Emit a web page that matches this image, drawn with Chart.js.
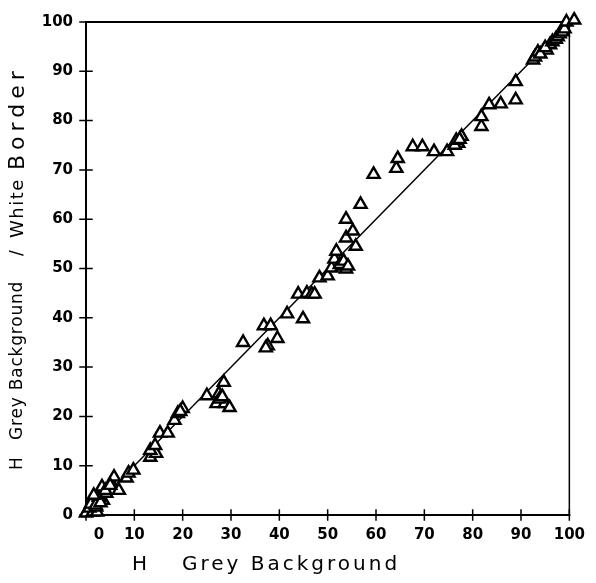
<!DOCTYPE html>
<html>
<head>
<meta charset="utf-8">
<script src="https://cdn.jsdelivr.net/npm/chart.js@4/dist/chart.umd.min.js"></script>
<style>
  html, body { margin: 0; padding: 0; background: #fff; }
  canvas { display: block; }
</style>
</head>
<body>
<canvas id="chart" width="596" height="583"></canvas>
<script>
// H measured on the grey background (x) against the grey background with a white border (y)
const hGrey = [
  0.0, 1.4, 2.3, 0.7, 2.1, 1.4, 1.0, 3.5, 2.7, 4.2, 3.3, 5.2, 6.8, 5.8, 8.4, 8.8, 9.8,
  2.0, 3.0, 1.6, 4.0, 5.0,
  13.3, 14.5, 13.3, 14.3, 15.3, 16.9, 18.3, 19.0, 20.0, 19.5,
  25.0, 27.5, 27.0, 28.7, 29.7, 28.5, 27.6, 28.2,
  32.5, 36.8, 38.2, 39.6, 37.6, 37.2, 41.6, 44.9, 43.9, 45.7, 46.7, 47.3,
  48.3, 50.0, 50.8, 53.0, 53.8, 51.4, 51.8, 55.8, 53.8, 55.2, 53.8, 56.8, 59.5,
  52.5, 53.3, 54.2,
  64.2, 64.5, 67.6, 69.6, 72.0, 74.7, 77.0, 77.7, 76.3, 76.6, 77.3,
  81.8, 81.8, 83.4, 85.8, 88.9, 88.9, 92.5, 92.9, 93.5, 95.3, 96.0,
  94.0, 95.0, 96.5, 97.2,
  97.6, 98.0, 98.6, 99.0, 99.4, 101.0
];
const hGreyWhiteBorder = [
  0.4, 0.6, 0.6, 1.4, 1.6, 3.0, 2.2, 3.0, 3.6, 4.4, 5.7, 6.5, 5.0, 7.7, 7.5, 8.5, 9.1,
  2.0, 2.5, 4.0, 5.0, 6.0,
  11.7, 12.5, 13.1, 14.1, 16.6, 16.6, 19.2, 20.6, 21.6, 21.0,
  24.2, 24.6, 22.6, 22.6, 21.8, 26.9, 23.5, 24.0,
  35.0, 38.4, 38.4, 35.8, 34.3, 33.9, 40.8, 39.8, 44.8, 45.0, 44.8, 44.8,
  48.1, 48.5, 50.1, 50.5, 49.9, 51.9, 53.5, 54.5, 56.2, 57.6, 60.0, 63.0, 69.1,
  50.8, 51.5, 50.5,
  70.3, 72.3, 74.7, 74.7, 73.7, 73.7, 75.4, 76.8, 75.0, 76.0, 76.2,
  78.8, 80.8, 83.2, 83.4, 84.2, 87.9, 92.3, 92.9, 93.9, 94.3, 95.4,
  93.5, 94.8, 96.0, 96.5,
  97.0, 97.6, 98.0, 98.6, 100.0, 100.4
];
// equal-value reference line
const identityX = [0, 100];
const identityY = [0, 100];
// axis ticks and their labels
const tickValues = [0, 10, 20, 30, 40, 50, 60, 70, 80, 90, 100];
const xTickLabels = ['     0', '10', '20', '30', '40', '50', '60', '70', '80', '90', '100'];
const yTickLabels = ['0', '10', '20', '30', '40', '50', '60', '70', '80', '90', '100'];

const points = hGrey.map((x, i) => ({ x, y: hGreyWhiteBorder[i] }));
const line = identityX.map((x, i) => ({ x, y: identityY[i] }));

const tickFont = { family: 'DejaVu Sans', size: 15, weight: 'bold' };

// frame and cross-shaped tick marks
const framePlugin = {
  id: 'frame',
  beforeDatasetsDraw(chart) {
    const { ctx, chartArea: a, scales: { x, y } } = chart;
    ctx.save();
    ctx.strokeStyle = '#000';
    ctx.lineCap = 'square';
    ctx.lineWidth = 2;
    ctx.beginPath();
    ctx.moveTo(a.left, a.top); ctx.lineTo(a.left, a.bottom);
    ctx.lineTo(a.right, a.bottom);
    ctx.moveTo(a.left, a.top); ctx.lineTo(a.right, a.top);
    ctx.stroke();
    ctx.lineWidth = 1.5;
    ctx.beginPath();
    ctx.moveTo(a.right, a.top); ctx.lineTo(a.right, a.bottom);
    ctx.stroke();
    ctx.lineWidth = 1.5;
    ctx.beginPath();
    tickValues.forEach(v => {
      const px = x.getPixelForValue(v);
      ctx.moveTo(px, a.bottom - 5); ctx.lineTo(px, a.bottom + 5);
      const py = y.getPixelForValue(v);
      ctx.moveTo(a.left - 6, py); ctx.lineTo(a.left + 6, py);
    });
    ctx.stroke();
    ctx.restore();
  }
};

// axis titles, set piece by piece
const titlePlugin = {
  id: 'axisTitles',
  afterDraw(chart) {
    const ctx = chart.ctx;
    ctx.save();
    ctx.fillStyle = '#000';
    ctx.textBaseline = 'middle';
    ctx.textAlign = 'left';
    ctx.font = '20px "DejaVu Sans"';
    ctx.letterSpacing = '3px';
    ctx.fillText('H', 132, 565);
    ctx.fillText('Grey Background', 182, 565);

    ctx.translate(18, 0);
    ctx.rotate(-Math.PI / 2);
    ctx.font = '17px "DejaVu Sans"';
    ctx.letterSpacing = '0.8px';
    ctx.fillText('H', -470, 0);
    ctx.fillText('Grey Background', -440, 0);
    ctx.fillText('/', -256, 0);
    ctx.font = '18px "DejaVu Sans"';
    ctx.letterSpacing = '1.5px';
    ctx.fillText('White', -238, 0);
    ctx.font = '22px "DejaVu Sans"';
    ctx.letterSpacing = '5px';
    ctx.fillText('Border', -170, 0);
    ctx.restore();
  }
};

new Chart(document.getElementById('chart'), {
  type: 'scatter',
  data: {
    datasets: [
      {
        data: line,
        showLine: true,
        borderColor: '#000',
        borderWidth: 1.5,
        pointRadius: 0,
        fill: false,
        order: 2
      },
      {
        data: points,
        pointStyle: 'triangle',
        pointRadius: 7,
        pointBorderWidth: 2.4,
        pointBackgroundColor: '#fff',
        pointBorderColor: '#000',
        clip: false,
        order: 1
      }
    ]
  },
  options: {
    responsive: false,
    animation: false,
    events: [],
    layout: { padding: { top: 20, right: 16, left: 0, bottom: 0 } },
    plugins: { legend: { display: false }, tooltip: { enabled: false } },
    scales: {
      x: {
        type: 'linear',
        min: 0,
        max: 100,
        afterFit(scale) { scale.height = 68; },
        afterBuildTicks(scale) { scale.ticks = tickValues.map(value => ({ value })); },
        grid: { display: false, drawTicks: false },
        border: { display: false },
        ticks: {
          color: '#000',
          font: tickFont,
          padding: 11,
          maxRotation: 0,
          autoSkip: false,
          callback: (v, i) => xTickLabels[i]
        }
      },
      y: {
        type: 'linear',
        min: 0,
        max: 100,
        afterFit(scale) { scale.width = 86; },
        afterBuildTicks(scale) { scale.ticks = tickValues.map(value => ({ value })); },
        grid: { display: false, drawTicks: false },
        border: { display: false },
        ticks: {
          color: '#000',
          font: tickFont,
          padding: 13,
          autoSkip: false,
          callback: (v, i) => yTickLabels[i]
        }
      }
    }
  },
  plugins: [framePlugin, titlePlugin]
});
</script>
</body>
</html>
